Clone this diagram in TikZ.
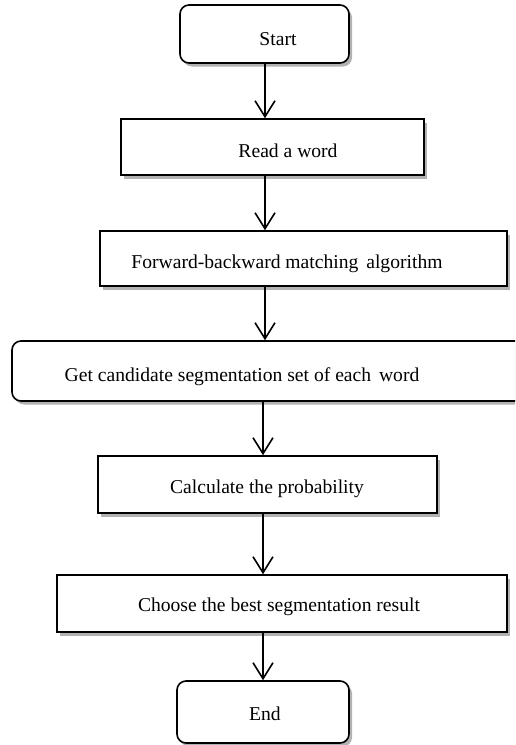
\documentclass[tikz,border=0pt]{standalone}
\usepackage{fontspec}
\setmainfont{Liberation Serif}
\usetikzlibrary{arrows.meta,shadows}
\begin{document}
\begin{tikzpicture}[x=1pt,y=-1pt,
  box/.style={draw, line width=1.6pt, fill=white, inner sep=0pt,
    drop shadow={shadow xshift=3pt, shadow yshift=-3.5pt, fill=gray!60, opacity=1}},
  rbox/.style={box, rounded corners=9pt},
  lbl/.style={font=\fontsize{19.6}{22}\selectfont, inner sep=0pt},
  flow/.style={-{Straight Barb[length=16pt, width=20pt]}, line width=1.6pt}]
\clip (0,0) rectangle (515,745);
\fill[white] (0,0) rectangle (515,745);
% boxes: centre and size from the reference
\node[rbox, minimum width=169pt, minimum height=58pt] (start) at (264.5,34) {};
\node[box,  minimum width=303pt, minimum height=56pt] (read) at (272.5,147) {};
\node[box,  minimum width=407pt, minimum height=55pt] (fwd) at (303.5,258.5) {};
\node[rbox, minimum width=530pt, minimum height=60pt] (cand) at (277,371) {};
\node[box,  minimum width=339pt, minimum height=57pt] (calc) at (267.5,484.5) {};
\node[box,  minimum width=450pt, minimum height=57pt] (choose) at (282,603.5) {};
\node[rbox, minimum width=172pt, minimum height=62pt] (end) at (263,712) {};
% texts
\node[lbl] (tstart) at (278,39) {Start};
\node[lbl] (tread) at (288,151) {Read a word};
\node[lbl] (tfwd) at (287,264) {Forward-backward matching\hspace{3pt} algorithm};
\node[lbl] (tcand) at (242,377) {Get candidate segmentation set of each\hspace{3pt} word};
\node[lbl] (tcalc) at (267,489) {Calculate the probability};
\node[lbl] (tchoose) at (279,607) {Choose the best segmentation result};
\node[lbl] (tend) at (265,714) {End};
% connectors
\coordinate (ax) at (265,0);
\coordinate (bx) at (263,0);
\draw[flow] (ax |- start.south) -- (ax |- read.north);
\draw[flow] (ax |- read.south) -- (ax |- fwd.north);
\draw[flow] (ax |- fwd.south) -- (ax |- cand.north);
\draw[flow] (bx |- cand.south) -- (bx |- calc.north);
\draw[flow] (bx |- calc.south) -- (bx |- choose.north);
\draw[flow] (bx |- choose.south) -- (bx |- end.north);
\end{tikzpicture}
\end{document}
